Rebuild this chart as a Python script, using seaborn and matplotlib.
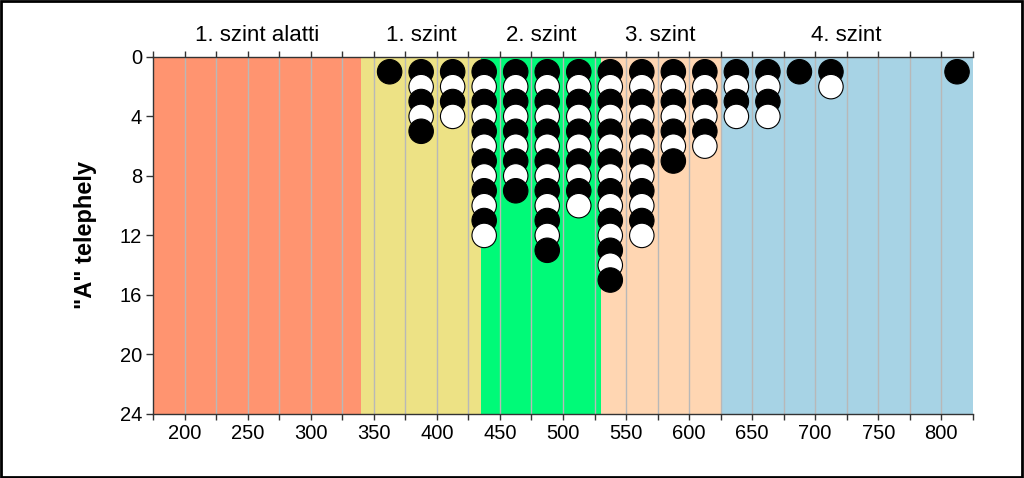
import matplotlib
matplotlib.use("Agg")
import matplotlib.pyplot as plt
import matplotlib.transforms as mtransforms
from matplotlib.patches import Rectangle
import seaborn as sns
import numpy as np
import pandas as pd

# column centres (score bins) and how many results fall in each
bin_centers = [362.5, 387.5, 412.5, 437.5, 462.5, 487.5, 512.5, 537.5, 562.5,
               587.5, 612.5, 637.5, 662.5, 687.5, 712.5, 737.5, 762.5, 787.5, 812.5]
counts = [1, 5, 4, 12, 9, 13, 10, 15, 12, 7, 6, 4, 4, 1, 2, 0, 0, 0, 1]

# competence level bands
band_edges = [175, 340, 435, 530, 625, 825]
band_names = ["1. szint alatti", "1. szint", "2. szint", "3. szint", "4. szint"]
band_colors = ["#FF9470", "#EDE285", "#00FA78", "#FFD6B2", "#A7D3E5"]

x_ticks = list(range(175, 826, 25))
x_labels = [str(v) if (v % 50 == 0 and 200 <= v <= 800) else "" for v in x_ticks]
y_ticks = [0, 4, 8, 12, 16, 20, 24]


def build_points(centers, cnts):
    """Stack one dot per result on top of each bin; alternate black / white."""
    rows = []
    for x, n in zip(centers, cnts):
        for k in range(1, n + 1):
            rows.append({"x": x, "y": k, "fill": "black" if k % 2 == 1 else "white"})
    df = pd.DataFrame(rows)
    # lower dots drawn last so they overlap the ones above
    return df.sort_values(["y", "x"]).reset_index(drop=True)


def main():
    sns.set_style("ticks")
    plt.rcParams["font.family"] = ["Liberation Sans", "DejaVu Sans"]
    plt.rcParams["text.color"] = "black"
    plt.rcParams["axes.labelcolor"] = "black"
    plt.rcParams["xtick.labelcolor"] = "black"
    plt.rcParams["ytick.labelcolor"] = "black"

    df = build_points(bin_centers, counts)

    fig = plt.figure(figsize=(10.24, 4.78), dpi=100)
    ax = fig.add_axes([0.1496, 0.134, 0.8004, 0.747])

    # background bands
    for left, right, col in zip(band_edges[:-1], band_edges[1:], band_colors):
        ax.axvspan(left, right, color=col, lw=0, zorder=0)

    # vertical grid
    for v in x_ticks[1:-1]:
        ax.axvline(v, color="#B8B8B8", lw=1, zorder=1)

    sns.scatterplot(data=df, x="x", y="y", hue="fill",
                    palette={"black": "black", "white": "white"},
                    s=310, edgecolor="black", linewidth=0.8,
                    legend=False, ax=ax, zorder=3)

    ax.set_xlim(175, 825)
    ax.set_ylim(24, 0)
    ax.set_xticks(x_ticks)
    ax.set_xticklabels(x_labels)
    ax.set_yticks(y_ticks)
    ax.set_xlabel("")
    ax.set_ylabel('"A" telephely', fontsize=17, fontweight="bold", labelpad=16,
                  color="black")

    ax.tick_params(axis="x", top=True, labeltop=False, direction="out",
                   length=4, width=1, labelsize=14.5, color="#333333",
                   labelcolor="black", pad=3)
    ax.tick_params(axis="y", direction="out", length=5, width=1,
                   labelsize=14.5, color="#333333", labelcolor="black", pad=3)

    for side in ["left", "top", "bottom"]:
        ax.spines[side].set_color("#333333")
        ax.spines[side].set_linewidth(1)
    ax.spines["right"].set_visible(False)

    # band names above the plot
    trans = mtransforms.blended_transform_factory(ax.transData, ax.transAxes)
    for left, right, name in zip(band_edges[:-1], band_edges[1:], band_names):
        ax.text((left + right) / 2, 1.03, name, transform=trans,
                ha="center", va="bottom", fontsize=16, color="black")

    # frame around the whole figure
    fig.patches.append(Rectangle((0.001, 0.002), 0.997, 0.995, transform=fig.transFigure,
                                 fill=False, edgecolor="black", linewidth=2))

    fig.savefig("out.png", dpi=100)
    plt.close(fig)


if __name__ == "__main__":
    main()
